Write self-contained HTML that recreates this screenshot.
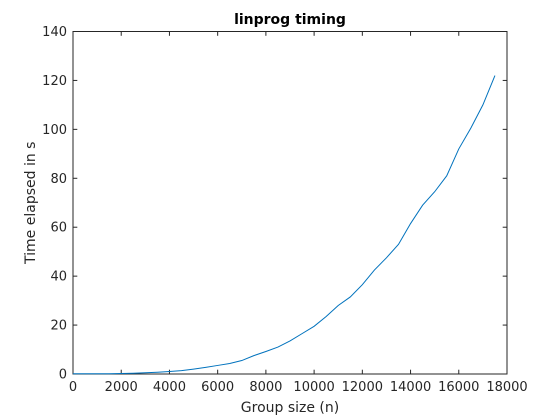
<!DOCTYPE html>
<html><head><meta charset="utf-8"><style>
body{margin:0;background:#fff}
svg{display:block;font-family:"DejaVu Sans","Liberation Sans",sans-serif}
</style></head><body>
<svg id="chart" width="560" height="420">
<rect width="560" height="420" fill="#fff"/>
<rect x="73" y="31.5" width="434" height="342.5" fill="#fff" stroke="#262626" stroke-width="1"/>
<text x="290" y="24" text-anchor="middle" font-weight="bold" font-size="14" fill="#000">linprog timing</text>
<text x="290" y="412" text-anchor="middle" font-size="14" fill="#262626">Group size (n)</text>
<text transform="translate(35,202.75) rotate(-90)" text-anchor="middle" font-size="14" fill="#262626">Time elapsed in s</text>
<g id="ticks"></g>
<path id="line" fill="none" stroke="#0072bd" stroke-width="1"/>
</svg>
<script>
const xValues=[0,500,1000,1500,2000,2500,3000,3500,4000,4500,5000,5500,6000,6500,7000,7500,8000,8500,9000,9500,10000,10500,11000,11500,12000,12500,13000,13500,14000,14500,15000,15500,16000,16500,17000,17500];
const timeValues=[0.1,0.1,0.1,0.1,0.2,0.3,0.5,0.7,1,1.4,2,2.7,3.5,4.3,5.5,7.5,9.2,11,13.5,16.5,19.5,23.5,28,31.5,36.5,42.5,47.5,53,61.5,69,74.5,81,92,100.5,110,122];
const xTicks=[0,2000,4000,6000,8000,10000,12000,14000,16000,18000];
const yTicks=[0,20,40,60,80,100,120,140];
const L=73,R=507,T=31.5,B=374;
const sx=v=>L+(v-0)/18000*(R-L);
const sy=v=>B-(v-0)/140*(B-T);
const NS="http://www.w3.org/2000/svg";
const g=document.getElementById('ticks');
function mk(tag,attrs){const e=document.createElementNS(NS,tag);for(const k in attrs)e.setAttribute(k,attrs[k]);return e;}
xTicks.forEach(v=>{
  const x=sx(v);
  const t1=mk('line',{x1:x,x2:x,y1:B,y2:B-4.3,stroke:'#262626'});
  
  
  g.appendChild(t1);
  const t2=mk('line',{x1:x,x2:x,y1:T,y2:T+4.3,stroke:'#262626'});
  
  
  g.appendChild(t2);
  const tx=mk('text',{x:x,y:B+17,'text-anchor':'middle','font-size':'13',fill:'#262626'});
  tx.textContent=v;
  
  
  g.appendChild(tx);
});
yTicks.forEach(v=>{
  const y=sy(v);
  const t1=mk('line',{x1:L,x2:L+4.3,y1:y,y2:y,stroke:'#262626'});
  
  
  g.appendChild(t1);
  const t2=mk('line',{x1:R,x2:R-4.3,y1:y,y2:y,stroke:'#262626'});
  
  
  g.appendChild(t2);
  const tx=mk('text',{x:L-6,y:y+4.5,'text-anchor':'end','font-size':'13',fill:'#262626'});
  tx.textContent=v;
  
  
  g.appendChild(tx);
});
document.getElementById('line').setAttribute('d',xValues.map((x,i)=>(i?'L':'M')+sx(x).toFixed(2)+','+sy(timeValues[i]).toFixed(2)).join(''));
</script>
</body></html>
